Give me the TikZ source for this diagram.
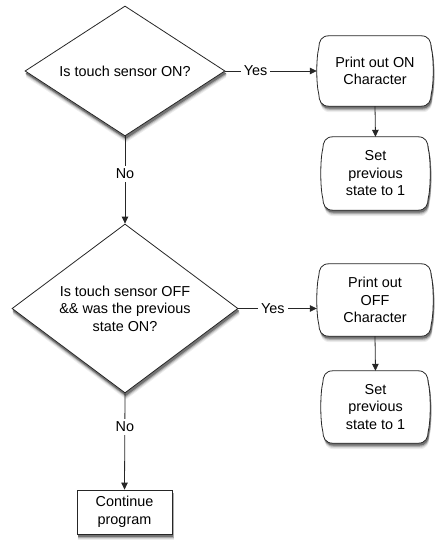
\documentclass[tikz,border=0pt]{standalone}
\usepackage{fontspec}
\setmainfont{Liberation Sans}
\usetikzlibrary{shapes.geometric,arrows.meta,backgrounds}

\tikzset{
  lineclr/.style={draw=black!85, line width=0.8pt},
  decision/.style={diamond, lineclr, fill=white, inner sep=0pt, align=center},
  procbox/.style={rectangle, inner sep=0pt, align=center},
  endbox/.style={rectangle, lineclr, fill=white, inner sep=0pt, align=center},
  conn/.style={lineclr, -{Triangle[length=7pt,width=6.5pt]}},
  lab/.style={fill=white, inner sep=3pt},
}

% process box path: rounded corners and gently bulging sides
\newcommand{\procpath}[1]{%
    ([xshift=12pt]#1.north west) -- ([xshift=-12pt]#1.north east)
    .. controls ([xshift=-5pt]#1.north east) and ([xshift=-2pt,yshift=-5pt]#1.north east) .. ([xshift=-2pt,yshift=-12pt]#1.north east)
    .. controls ([xshift=0.7pt,yshift=-22pt]#1.north east) and ([xshift=0.7pt,yshift=22pt]#1.south east) .. ([xshift=-2pt,yshift=12pt]#1.south east)
    .. controls ([xshift=-2pt,yshift=5pt]#1.south east) and ([xshift=-5pt]#1.south east) .. ([xshift=-12pt]#1.south east)
    -- ([xshift=12pt]#1.south west)
    .. controls ([xshift=5pt]#1.south west) and ([xshift=2pt,yshift=5pt]#1.south west) .. ([xshift=2pt,yshift=12pt]#1.south west)
    .. controls ([xshift=-0.7pt,yshift=22pt]#1.south west) and ([xshift=-0.7pt,yshift=-22pt]#1.north west) .. ([xshift=2pt,yshift=-12pt]#1.north west)
    .. controls ([xshift=2pt,yshift=-5pt]#1.north west) and ([xshift=5pt]#1.north west) .. cycle}

% every shape's silhouette, used for the drop shadows
\newcommand{\silhouettes}{%
  \path (d1.north) -- (d1.east) -- (d1.south) -- (d1.west) -- cycle;
  \path (d2.north) -- (d2.east) -- (d2.south) -- (d2.west) -- cycle;
  \path (c.north west) rectangle (c.south east);
  \path \procpath{p1}; \path \procpath{s1}; \path \procpath{p2}; \path \procpath{s2};}

\newcommand{\shadowlayer}[3]{%
  \begin{scope}[transform canvas={shift={(#1,#2)}}, every path/.style={fill=#3}]
    \silhouettes
  \end{scope}}

\begin{document}
\begin{tikzpicture}[x=1pt, y=-1pt, font=\fontsize{14.4}{17.5}\selectfont]
  \useasboundingbox (0,0) rectangle (435,540);

  % decisions
  \node[decision, minimum width=200pt, minimum height=130pt, shape aspect=1.54]
    (d1) at (125,71) {Is touch sensor ON?};
  \node[decision, minimum width=226pt, minimum height=169pt, shape aspect=1.34]
    (d2) at (125,308.5) {Is touch sensor OFF\\ \&\& was the previous\\ state ON?};

  % process boxes
  \node[procbox, minimum width=116pt, minimum height=70pt] (p1) at (375,71) {Print out ON\\Character};
  \node[procbox, minimum width=109pt, minimum height=73pt] (s1) at (375.5,173.5) {Set\\previous\\state to 1};
  \node[procbox, minimum width=116pt, minimum height=72pt] (p2) at (375,300) {Print out\\OFF\\Character};
  \node[procbox, minimum width=109pt, minimum height=72pt] (s2) at (375.5,407) {Set\\previous\\state to 1};

  % final step
  \node[endbox, minimum width=95pt, minimum height=44pt] (c) at (124.5,512) {Continue\\program};

  \begin{scope}[on background layer]
    % soft drop shadows, built up from a few offset copies
    \shadowlayer{1.2pt}{-6pt}{black!7}
    \shadowlayer{1.2pt}{-4.8pt}{black!16}
    \shadowlayer{1.1pt}{-3.6pt}{black!32}
    \shadowlayer{0.9pt}{-2.4pt}{black!55}
    % process box outlines
    \path[lineclr, fill=white] \procpath{p1};
    \path[lineclr, fill=white] \procpath{s1};
    \path[lineclr, fill=white] \procpath{p2};
    \path[lineclr, fill=white] \procpath{s2};
  \end{scope}

  % connectors
  \draw[conn] (d1.east) -- node[lab, pos=.33] {Yes} (p1.west);
  \draw[conn] (p1.south) -- (s1.north);
  \draw[conn] (d1.south) -- node[lab, pos=.43] {No} (d2.north);
  \draw[conn] (d2.east) -- node[lab, pos=.44] {Yes} (d2.east -| p2.west);
  \draw[conn] (p2.south) -- (s2.north);
  \draw[conn] (d2.south) -- node[lab, pos=.35] {No} (c.north);
\end{tikzpicture}
\end{document}
